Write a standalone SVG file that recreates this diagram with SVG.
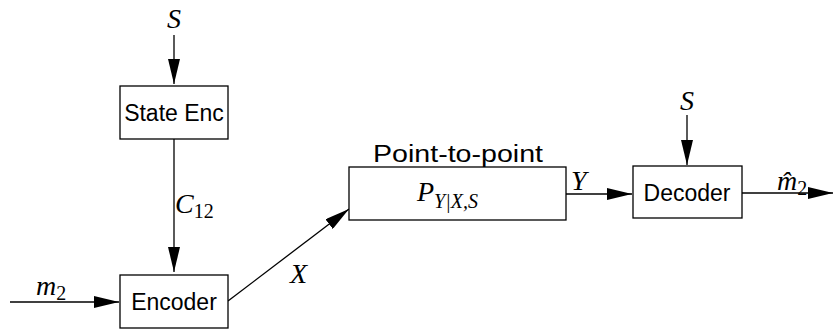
<svg xmlns="http://www.w3.org/2000/svg" width="834" height="329" viewBox="0 0 834 329">
<style>
.box{fill:#fff;stroke:#000;stroke-width:1.3}
.lbl{font-family:"Liberation Sans",Arial,sans-serif;font-size:23px;fill:#000}
.m{font-family:"Liberation Serif","Times New Roman",serif;font-style:italic;font-size:28px;fill:#000}
.sub{font-family:"Liberation Serif","Times New Roman",serif;font-size:20px;fill:#000}
.si{font-style:italic}
.c{stroke:#000;stroke-width:1.3;fill:none;marker-end:url(#ah)}
</style>
<defs>
<marker id="ah" markerUnits="userSpaceOnUse" viewBox="0 0 25 12" refX="25" refY="6" markerWidth="25" markerHeight="12" orient="auto">
<path d="M0,0 L25,6 L0,12 Z" fill="#000"/>
</marker>
</defs>
<g id="connectors">
<line class="c" x1="174" y1="35" x2="174" y2="84"/>
<line class="c" x1="174" y1="139" x2="174" y2="272"/>
<line class="c" x1="10" y1="302" x2="119" y2="302"/>
<line class="c" x1="228" y1="301" x2="349" y2="209"/>
<line class="c" x1="566" y1="194" x2="632" y2="194"/>
<line class="c" x1="687" y1="115" x2="687" y2="165"/>
<line class="c" x1="742" y1="193" x2="833" y2="193"/>
</g>
<g id="labels">
<text class="m" x="174" y="28" text-anchor="middle">S</text>
<text class="m" x="175" y="213">C<tspan class="sub" font-style="normal" dy="5">12</tspan></text>
<text class="m" x="36" y="295">m<tspan class="sub" font-style="normal" dy="5">2</tspan></text>
<text class="m" x="290" y="283">X</text>
<text class="m" x="571" y="190">Y</text>
<text class="m" x="687" y="110" text-anchor="middle">S</text>
<text class="m" x="777" y="190">m̂<tspan class="sub" font-style="normal" dy="5">2</tspan></text>
</g>
<g id="state-enc">
<rect class="box" x="120" y="86" width="108" height="53"/>
<text class="lbl" x="174" y="121" text-anchor="middle">State Enc</text>
</g>
<g id="encoder">
<rect class="box" x="120" y="275" width="108" height="53"/>
<text class="lbl" x="174" y="310" text-anchor="middle">Encoder</text>
</g>
<g id="channel">
<text class="lbl" x="373" y="162" font-size="25" textLength="170" lengthAdjust="spacingAndGlyphs">Point-to-point</text>
<rect class="box" x="349" y="167" width="217" height="53"/>
<text class="m" x="417" y="201">P<tspan class="sub" dy="7"><tspan class="si">Y</tspan>|<tspan class="si">X</tspan>,<tspan class="si">S</tspan></tspan></text>
</g>
<g id="decoder">
<rect class="box" x="633" y="166" width="109" height="52"/>
<text class="lbl" x="687" y="201" text-anchor="middle">Decoder</text>
</g>
</svg>
